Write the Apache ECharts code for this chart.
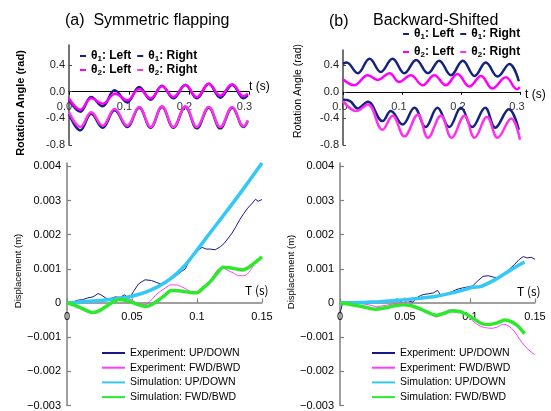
<!DOCTYPE html>
<html>
<head>
<meta charset="utf-8">
<script src="https://cdn.jsdelivr.net/npm/echarts@6/dist/echarts.min.js"></script>
<style>
  html, body { margin: 0; padding: 0; background: #fff; }
  #chart { width: 551px; height: 411px; }
</style>
</head>
<body>
<div id="chart"></div>
<script>
// ---- tick values ----
const angleTicks = [-0.8, -0.4, 0, 0.4];
const timeTicksTop = [0, 0.1, 0.2, 0.3];
const dispTicks = [-0.003, -0.002, -0.001, 0, 0.001, 0.002, 0.003, 0.004];
const timeTicksBottom = [0, 0.05, 0.1, 0.15];

// ---- (a) rotation angles [t (s), rad] ----
const aTh1Left = [[0,-0.12],[0.019,-0.30],[0.037,-0.08],[0.056,-0.22],[0.076,0.02],[0.097,-0.16],[0.117,0.07],[0.136,-0.12],[0.155,0.09],[0.174,-0.10],[0.194,0.10],[0.213,-0.10],[0.233,0.12],[0.252,-0.09],[0.272,0.10],[0.291,-0.10],[0.298,-0.05]];
const aTh1Right = [[0,-0.33],[0.019,-0.58],[0.037,-0.33],[0.056,-0.54],[0.076,-0.28],[0.097,-0.53],[0.117,-0.24],[0.136,-0.54],[0.155,-0.23],[0.174,-0.54],[0.194,-0.23],[0.213,-0.55],[0.233,-0.24],[0.252,-0.55],[0.272,-0.24],[0.291,-0.53],[0.298,-0.44]];
const aTh2Left = [[0,-0.10],[0.019,-0.27],[0.037,-0.10],[0.056,-0.18],[0.077,-0.03],[0.097,-0.13],[0.117,0.04],[0.136,-0.10],[0.155,0.08],[0.174,-0.08],[0.194,0.10],[0.213,-0.08],[0.233,0.12],[0.252,-0.06],[0.272,0.11],[0.291,-0.07],[0.298,-0.03]];
const aTh2Right = [[0,-0.31],[0.019,-0.53],[0.037,-0.31],[0.056,-0.51],[0.076,-0.26],[0.097,-0.51],[0.117,-0.23],[0.136,-0.53],[0.155,-0.22],[0.174,-0.53],[0.194,-0.22],[0.213,-0.53],[0.233,-0.23],[0.252,-0.53],[0.272,-0.23],[0.291,-0.52],[0.298,-0.43]];

// ---- (b) rotation angles ----
const bTh1Left = [[0,0.42],[0.006,0.44],[0.025,0.28],[0.045,0.50],[0.064,0.30],[0.084,0.50],[0.104,0.28],[0.124,0.48],[0.144,0.28],[0.163,0.47],[0.183,0.25],[0.203,0.47],[0.223,0.24],[0.242,0.44],[0.262,0.23],[0.282,0.42],[0.298,0.16]];
const bTh1Right = [[0,-0.12],[0.012,-0.14],[0.025,-0.25],[0.042,-0.15],[0.067,-0.44],[0.081,-0.29],[0.101,-0.49],[0.121,-0.24],[0.140,-0.53],[0.160,-0.24],[0.180,-0.53],[0.200,-0.24],[0.219,-0.53],[0.241,-0.24],[0.258,-0.54],[0.281,-0.26],[0.298,-0.57]];
const bTh2Left = [[0,0.19],[0.019,0.10],[0.042,0.25],[0.059,0.18],[0.079,0.28],[0.095,0.15],[0.115,0.25],[0.135,0.10],[0.155,0.25],[0.174,0.10],[0.194,0.27],[0.214,0.08],[0.234,0.24],[0.253,0.05],[0.276,0.22],[0.295,0.04],[0.3,0.07]];
const bTh2Right = [[0,-0.14],[0.023,-0.29],[0.042,-0.19],[0.067,-0.57],[0.084,-0.36],[0.104,-0.67],[0.127,-0.34],[0.144,-0.69],[0.166,-0.36],[0.184,-0.69],[0.206,-0.36],[0.223,-0.69],[0.244,-0.38],[0.262,-0.69],[0.285,-0.40],[0.3,-0.72]];

// ---- (a) displacement [T (s), m] ----
const aExpUD = [[0,0],[0.004,0.00002],[0.008,0.00008],[0.012,0.0001],[0.016,0.00015],[0.02,0.00018],[0.024,0.00028],[0.027,0.00022],[0.03,0.00014],[0.033,0.00012],[0.037,0.00018],[0.041,0.00016],[0.044,0.00024],[0.048,0.00014],[0.051,0.00033],[0.055,0.00056],[0.06,0.00068],[0.065,0.00066],[0.069,0.0006],[0.073,0.00055],[0.077,0.00062],[0.08,0.0007],[0.084,0.0008],[0.088,0.00092],[0.091,0.001],[0.094,0.00123],[0.098,0.00145],[0.101,0.00155],[0.104,0.00163],[0.107,0.00158],[0.11,0.00158],[0.114,0.00156],[0.118,0.00165],[0.121,0.00175],[0.124,0.0019],[0.127,0.00205],[0.13,0.00224],[0.133,0.00245],[0.136,0.00262],[0.139,0.00278],[0.142,0.0029],[0.145,0.00304],[0.147,0.00298],[0.15,0.00303]];
const aExpFB = [[0,0],[0.005,-0.00005],[0.01,-0.00012],[0.015,-0.0002],[0.02,-0.00026],[0.025,-0.00022],[0.03,-0.0001],[0.035,0.00005],[0.04,0.00018],[0.045,0.00016],[0.05,0.00008],[0.055,-0.00002],[0.06,-0.00005],[0.064,0.00005],[0.068,0.00022],[0.072,0.00035],[0.076,0.00045],[0.08,0.00053],[0.084,0.00053],[0.088,0.00048],[0.092,0.0004],[0.096,0.00032],[0.1,0.0003],[0.104,0.0004],[0.108,0.00055],[0.112,0.00075],[0.116,0.00098],[0.12,0.00102],[0.124,0.00095],[0.128,0.00088],[0.132,0.0008],[0.136,0.0008],[0.14,0.0009],[0.144,0.00112],[0.148,0.00128],[0.15,0.00133]];
const aSimUD = [[0,0],[0.01,0.00003],[0.02,0.00006],[0.03,0.00009],[0.04,0.00013],[0.05,0.0002],[0.06,0.00031],[0.07,0.00048],[0.08,0.00072],[0.09,0.00107],[0.1,0.00155],[0.11,0.00205],[0.12,0.00255],[0.13,0.00305],[0.14,0.00357],[0.15,0.0041]];
const aSimFB = [[0,0],[0.005,-0.00005],[0.01,-0.00013],[0.015,-0.00022],[0.02,-0.00028],[0.025,-0.00022],[0.03,-0.0001],[0.035,0.00002],[0.04,0.0001],[0.045,0.00008],[0.05,0.00002],[0.055,-0.00005],[0.06,-0.0001],[0.065,-0.00005],[0.07,0.00008],[0.075,0.00022],[0.08,0.00037],[0.085,0.00036],[0.09,0.00034],[0.095,0.00031],[0.1,0.0003],[0.105,0.00045],[0.11,0.00062],[0.115,0.00085],[0.12,0.00105],[0.125,0.00103],[0.13,0.001],[0.135,0.00097],[0.14,0.00105],[0.145,0.0012],[0.15,0.00135]];

// ---- (b) displacement ----
const bExpUD = [[0,-0.0003],[0.002,0],[0.006,0.00001],[0.01,-0.00001],[0.015,0.00003],[0.02,0.00001],[0.025,0.00002],[0.03,0.00005],[0.035,0.00003],[0.04,0.00006],[0.044,0.00012],[0.047,0.00004],[0.05,0.00015],[0.053,0.00006],[0.056,0.00003],[0.06,0.00018],[0.064,0.00025],[0.068,0.00027],[0.072,0.0003],[0.075,0.00037],[0.078,0.0002],[0.082,0.00028],[0.086,0.00033],[0.09,0.0004],[0.094,0.00044],[0.098,0.00047],[0.102,0.0005],[0.106,0.00065],[0.11,0.00078],[0.114,0.0008],[0.118,0.00076],[0.122,0.00072],[0.126,0.00085],[0.13,0.00098],[0.134,0.00112],[0.138,0.00128],[0.141,0.00136],[0.144,0.00132],[0.147,0.00134],[0.15,0.00128]];
const bExpFB = [[0,0],[0.01,0],[0.017,-0.00002],[0.023,-0.00006],[0.028,-0.0001],[0.035,-0.00007],[0.042,-0.00002],[0.048,0.00002],[0.052,0.00004],[0.057,-0.0001],[0.062,-0.0002],[0.067,-0.00026],[0.071,-0.00035],[0.074,-0.00041],[0.079,-0.00032],[0.084,-0.0002],[0.088,-0.0002],[0.092,-0.00025],[0.097,-0.00034],[0.1,-0.00045],[0.104,-0.00058],[0.108,-0.00068],[0.112,-0.00072],[0.117,-0.00074],[0.121,-0.0007],[0.126,-0.00062],[0.13,-0.00068],[0.134,-0.00082],[0.138,-0.00105],[0.142,-0.00125],[0.146,-0.0014],[0.15,-0.00152]];
const bSimUD = [[0,0],[0.01,0.00001],[0.02,0.00002],[0.03,0.00004],[0.04,0.00007],[0.05,0.0001],[0.06,0.00013],[0.066,0.00016],[0.074,0.0002],[0.082,0.00026],[0.092,0.00035],[0.102,0.00046],[0.108,0.00048],[0.113,0.00056],[0.12,0.0007],[0.126,0.00084],[0.131,0.00096],[0.137,0.0011],[0.142,0.0012]];
const bSimFB = [[0,0],[0.008,-0.00004],[0.017,-0.0001],[0.027,-0.00018],[0.035,-0.00014],[0.042,-0.00008],[0.048,-0.00005],[0.055,-0.00008],[0.062,-0.00018],[0.068,-0.00028],[0.074,-0.00036],[0.08,-0.0003],[0.086,-0.00023],[0.091,-0.00024],[0.097,-0.00032],[0.103,-0.00046],[0.109,-0.0006],[0.115,-0.00063],[0.121,-0.00058],[0.127,-0.0005],[0.132,-0.00055],[0.137,-0.00068],[0.142,-0.0009]];

const SANS = 'Liberation Sans, Arial, sans-serif';
const JP = '"Noto Sans CJK JP", sans-serif';

const C = {
  th1L: '#1d3fae', th1R: '#16237e', th2L: '#ff00ff', th2R: '#ff30f0',
  expUD: '#18188a', expFB: '#ff3cff', simUD: '#33c8f5', simFB: '#2ee82e'
};

const grids = [
  { left: 69, top: 45, width: 180, height: 100 },
  { left: 343, top: 50, width: 177, height: 95 },
  { left: 67, top: 163, width: 195, height: 244 },
  { left: 340, top: 163, width: 195, height: 244 }
];
const yRanges = [[-0.8, 0.7], [-0.8, 0.63], [-0.003, 0.0041], [-0.003, 0.0041]];
// distance from the grid bottom up to y = 0, so the x axis sits on zero
const zeroOffset = gi => -(0 - yRanges[gi][0]) / (yRanges[gi][1] - yRanges[gi][0]) * grids[gi].height;

function topX(gi, pad) {
  return {
    type: 'value', gridIndex: gi, min: 0, max: 0.3, offset: zeroOffset(gi),
    axisLine: { onZero: false, lineStyle: { color: '#000', width: 1 } },
    axisTick: { length: 3, customValues: timeTicksTop, lineStyle: { color: '#000' } },
    axisLabel: { customValues: timeTicksTop, formatter: v => v.toFixed(1), margin: 10,
      padding: [0, pad, 0, 0], fontSize: 11, color: '#333', fontFamily: SANS },
    splitLine: { show: false }
  };
}
function topY(gi) {
  return {
    type: 'value', gridIndex: gi, min: yRanges[gi][0], max: yRanges[gi][1],
    axisLine: { show: true, onZero: false, lineStyle: { color: '#444', width: 1.5 } },
    axisTick: { inside: true, length: 3, customValues: angleTicks, lineStyle: { color: '#444' } },
    axisLabel: { customValues: angleTicks, formatter: v => v.toFixed(1), margin: 4,
      fontSize: 11, color: '#222', fontFamily: SANS },
    splitLine: { show: false }
  };
}
function botX(gi) {
  return {
    type: 'value', gridIndex: gi, min: 0, max: 0.15, offset: zeroOffset(gi),
    axisLine: { onZero: false, lineStyle: { color: '#808080', width: 1.5 } },
    axisTick: { inside: true, length: 4, customValues: timeTicksBottom, lineStyle: { color: '#808080', width: 1.2 } },
    axisLabel: { customValues: timeTicksBottom, formatter: v => (v === 0 ? '0' : String(v)),
      margin: 9, fontSize: 11, color: '#000', fontFamily: SANS },
    splitLine: { show: false }
  };
}
function botY(gi) {
  return {
    type: 'value', gridIndex: gi, min: yRanges[gi][0], max: yRanges[gi][1],
    axisLine: { show: true, onZero: false, lineStyle: { color: '#808080', width: 1.5 } },
    axisTick: { inside: true, length: 4, customValues: dispTicks, lineStyle: { color: '#808080', width: 1.2 } },
    axisLabel: { customValues: dispTicks, margin: 6, fontSize: 11, color: '#000', fontFamily: SANS,
      formatter: v => Math.abs(v) < 1e-9 ? '0' : (v < 0 ? '\u2212' : '') + Math.abs(v).toFixed(3) },
    splitLine: { show: false }
  };
}

function line(name, data, gi, color, width, smooth) {
  return {
    type: 'line', name, data, xAxisIndex: gi, yAxisIndex: gi,
    symbol: 'none', smooth: smooth, clip: true,
    lineStyle: { color, width }, itemStyle: { color }
  };
}

const thetaFmt = name => {
  const m = name.match(/θ(\d): (.*)/);
  return '{g|θ}{s|' + m[1] + '}{g|: ' + m[2] + '}';
};
const thetaRich = {
  g: { fontSize: 12, fontWeight: 'bold', fontFamily: SANS, color: '#000' },
  s: { fontSize: 8, fontWeight: 'bold', fontFamily: SANS, color: '#000', verticalAlign: 'bottom', padding: [5, 0, 0, 0] }
};
function thetaLegend(left, top, names) {
  return {
    left, top, padding: 0, orient: 'horizontal', data: names, icon: 'rect',
    itemWidth: 6, itemHeight: 2, itemGap: 6, selectedMode: false,
    formatter: thetaFmt, textStyle: { rich: thetaRich }
  };
}
function dispLegend(left) {
  return {
    left, top: 347, padding: 0, orient: 'vertical', icon: 'rect',
    itemWidth: 23, itemHeight: 2, itemGap: 2.7, selectedMode: false,
    data: ['Experiment: UP/DOWN', 'Experiment: FWD/BWD', 'Simulation: UP/DOWN', 'Simulation: FWD/BWD'],
    textStyle: { fontSize: 10.5, lineHeight: 12, color: '#000', fontFamily: SANS }
  };
}

const chart = echarts.init(document.getElementById('chart'), null, { renderer: 'canvas' });

chart.setOption({
  animation: false,
  backgroundColor: '#fff',
  title: [
    { text: '(a)  Symmetric flapping', left: 65, top: 13, padding: 0,
      textStyle: { fontSize: 16, fontWeight: 'normal', fontFamily: SANS, color: '#000' } },
    { text: '(b)', left: 329, top: 14, padding: 0,
      textStyle: { fontSize: 16, fontWeight: 'normal', fontFamily: SANS, color: '#000' } },
    { text: 'Backward-Shifted', left: 373, top: 13, padding: 0,
      textStyle: { fontSize: 16, fontWeight: 'normal', fontFamily: SANS, color: '#000' } }
  ],
  grid: grids,
  xAxis: [topX(0, 9), topX(1, 6), botX(2), botX(3)],
  yAxis: [topY(0), topY(1), botY(2), botY(3)],
  legend: [
    thetaLegend(80, 50, ['θ1: Left', 'θ1: Right']),
    thetaLegend(80, 64, ['θ2: Left', 'θ2: Right']),
    thetaLegend(403, 28, ['θ1: Left', 'θ1: Right']),
    thetaLegend(403, 46, ['θ2: Left', 'θ2: Right']),
    dispLegend(102),
    dispLegend(372)
  ],
  graphic: [
    { type: 'text', x: 21, y: 103, rotation: Math.PI / 2,
      style: { text: 'Rotation Angle (rad)', font: 'bold 11px ' + SANS, fill: '#000', align: 'center', verticalAlign: 'middle' } },
    { type: 'text', x: 298, y: 91, rotation: Math.PI / 2,
      style: { text: 'Rotation Angle (rad)', font: '10.5px ' + SANS, fill: '#000', align: 'center', verticalAlign: 'middle' } },
    { type: 'text', x: 18, y: 271, rotation: Math.PI / 2,
      style: { text: 'Displacement (m)', font: '9.5px ' + SANS, fill: '#000', align: 'center', verticalAlign: 'middle' } },
    { type: 'text', x: 291, y: 272, rotation: Math.PI / 2,
      style: { text: 'Displacement (m)', font: '9.5px ' + SANS, fill: '#000', align: 'center', verticalAlign: 'middle' } },
    { type: 'text', x: 249, y: 87,
      style: { text: 't (s)', font: '12px ' + SANS, fill: '#000', align: 'left', verticalAlign: 'middle' } },
    { type: 'text', x: 525, y: 95,
      style: { text: 't (s)', font: '12px ' + SANS, fill: '#000', align: 'left', verticalAlign: 'middle' } },
    { type: 'text', x: 245, y: 290,
      style: { text: 'T (s)', font: '12px ' + JP, fill: '#000', align: 'left', verticalAlign: 'middle' } },
    { type: 'text', x: 517, y: 291,
      style: { text: 'T (s)', font: '12px ' + JP, fill: '#000', align: 'left', verticalAlign: 'middle' } }
  ],
  series: [
    line('θ1: Left', aTh1Left, 0, C.th1R, 2.5, 0.4),
    line('θ1: Right', aTh1Right, 0, C.th1R, 2.5, 0.4),
    line('θ2: Left', aTh2Left, 0, C.th2L, 2.5, 0.4),
    line('θ2: Right', aTh2Right, 0, C.th2R, 2.5, 0.4),
    line('θ1: Left', bTh1Left, 1, C.th1R, 2.5, 0.4),
    line('θ1: Right', bTh1Right, 1, C.th1R, 2.5, 0.4),
    line('θ2: Left', bTh2Left, 1, C.th2L, 2.5, 0.4),
    line('θ2: Right', bTh2Right, 1, C.th2R, 2.5, 0.4),
    line('Experiment: UP/DOWN', aExpUD, 2, C.expUD, 1, false),
    line('Experiment: FWD/BWD', aExpFB, 2, C.expFB, 1, 0.3),
    line('Simulation: UP/DOWN', aSimUD, 2, C.simUD, 3.5, 0.3),
    line('Simulation: FWD/BWD', aSimFB, 2, C.simFB, 3.5, 0.2),
    line('Experiment: UP/DOWN', bExpUD, 3, C.expUD, 1, false),
    line('Experiment: FWD/BWD', bExpFB, 3, C.expFB, 1, 0.3),
    line('Simulation: UP/DOWN', bSimUD, 3, C.simUD, 3.5, 0.2),
    line('Simulation: FWD/BWD', bSimFB, 3, C.simFB, 3.5, 0.3)
  ]
});
</script>
</body>
</html>
